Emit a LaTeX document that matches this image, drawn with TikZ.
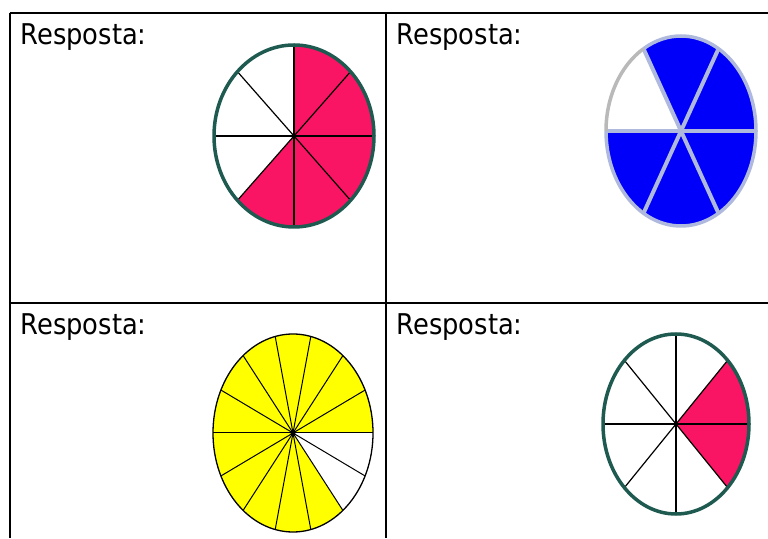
\documentclass[tikz,border=0pt]{standalone}
\usepackage{fontspec}
\newfontfamily\respfont{DejaVu Sans Condensed}
\definecolor{pieteal}{RGB}{30,90,80}
\definecolor{piepink}{RGB}{250,20,100}
\definecolor{pieblue}{RGB}{0,0,250}
\definecolor{pielav}{RGB}{175,185,222}
\definecolor{piegrey}{RGB}{185,185,185}
\definecolor{pieyellow}{RGB}{255,255,0}
\tikzset{
  gridline/.style={line width=2pt, black},
  resp/.style={anchor=base west, inner sep=0pt, font=\respfont\fontsize{28.6}{34}\selectfont},
  spoke/.style={line width=1.2pt, black},
}
\begin{document}
\begin{tikzpicture}[x=1pt,y=1pt]
\useasboundingbox (0,0) rectangle (768,538);
\fill[white] (0,0) rectangle (768,538);

% table
\coordinate (tl) at (9.5,525);
\coordinate (tr) at (768,525);
\coordinate (ml) at (9.5,235);
\coordinate (mr) at (768,235);
\coordinate (bl) at (9.5,0);
\coordinate (tm) at (386,525);
\coordinate (bm) at (386,0);
\draw[gridline] (tl) -- (tr);
\draw[gridline] (ml) -- (mr);
\draw[gridline] (tl) -- (bl);
\draw[gridline] (tm) -- (bm);

% labels
\node[resp] (r1) at (20.5,493) {Resposta:};
\node[resp] (r2) at (396.5,493) {Resposta:};
\node[resp] (r3) at (20.5,203) {Resposta:};
\node[resp] (r4) at (396.5,203) {Resposta:};

% pie 1 : 5/8 pink
\begin{scope}[shift={(294,402)}]
  \fill[piepink] (0,0) -- (-135:80pt and 91pt) arc[start angle=-135, end angle=90, x radius=80pt, y radius=91pt] -- cycle;
  \foreach \a in {0,45,...,315} \draw[spoke] (0,0) -- (\a:80pt and 91pt);
  \draw[pieteal, line width=3.5pt] (0,0) ellipse [x radius=80pt, y radius=91pt];
\end{scope}

% pie 2 : 5/6 blue
\begin{scope}[shift={(681,407)}]
  \fill[pieblue] (0,0) -- (180:75pt and 95pt) arc[start angle=180, end angle=480, x radius=75pt, y radius=95pt] -- cycle;
  \foreach \a in {0,60,...,300} \draw[pielav, line width=4pt] (0,0) -- (\a:75pt and 95pt);
  \draw[pielav, line width=3.5pt] (180:75pt and 95pt) arc[start angle=180, end angle=480, x radius=75pt, y radius=95pt];
  \draw[piegrey, line width=3.5pt] (120:75pt and 95pt) arc[start angle=120, end angle=180, x radius=75pt, y radius=95pt];
\end{scope}

% pie 3 : 12/14 yellow
\begin{scope}[shift={(293,105)}]
  \fill[pieyellow] (0,0) -- (0:80pt and 99pt) arc[start angle=0, end angle=308.571, x radius=80pt, y radius=99pt] -- cycle;
  \foreach \k in {0,...,13} \draw[line width=1pt, black] (0,0) -- ({\k*25.7143}:80pt and 99pt);
  \draw[line width=1.3pt, black] (0,0) ellipse [x radius=80pt, y radius=99pt];
  \fill[black] (0,0) circle (2.5pt);
\end{scope}

% pie 4 : 2/8 pink
\begin{scope}[shift={(676,114)}]
  \fill[piepink] (0,0) -- (-45:73pt and 90pt) arc[start angle=-45, end angle=45, x radius=73pt, y radius=90pt] -- cycle;
  \foreach \a in {0,45,...,315} \draw[spoke] (0,0) -- (\a:73pt and 90pt);
  \draw[pieteal, line width=3.5pt] (0,0) ellipse [x radius=73pt, y radius=90pt];
\end{scope}
\end{tikzpicture}
\end{document}
